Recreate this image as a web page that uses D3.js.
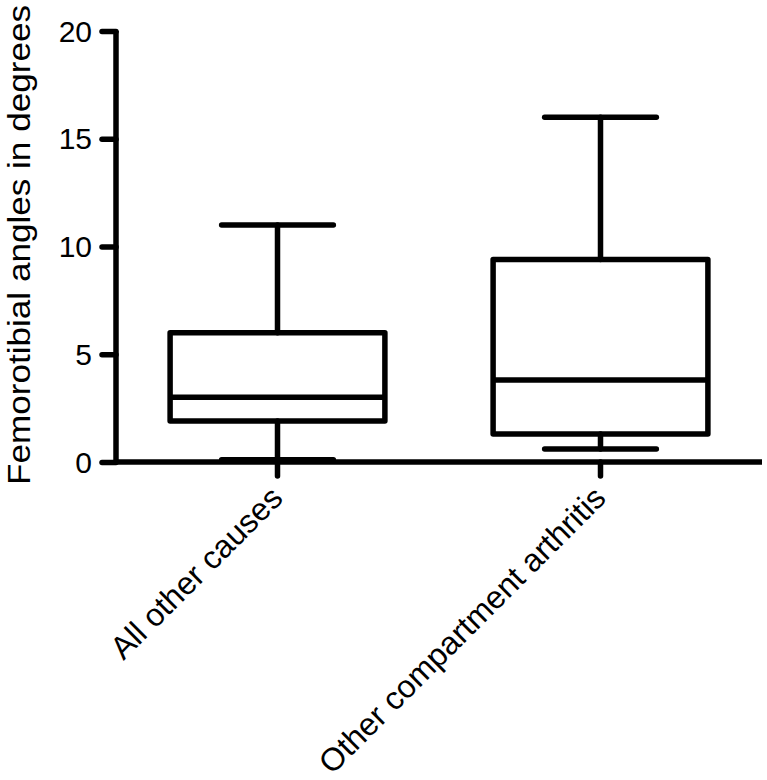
<!DOCTYPE html>
<html>
<head>
<meta charset="utf-8">
<script src="https://cdn.jsdelivr.net/npm/d3@7"></script>
<style>
  html, body { margin: 0; padding: 0; background: #fff; }
  svg { display: block; }
  text { font-family: "Liberation Sans", Arial, sans-serif; fill: #000; }
</style>
</head>
<body>
<svg id="chart" width="767" height="780"></svg>
<script>
const categories = ["All other causes", "Other compartment arthritis"];
const mins    = [0.1, 0.6];
const q1s     = [1.9, 1.3];
const medians = [3.0, 3.8];
const q3s     = [6.0, 9.4];
const maxs    = [11.0, 16.0];
const yTicks  = [0, 5, 10, 15, 20];
const yTitle  = "Femorotibial angles in degrees";

const svg = d3.select("#chart");
const mLeft = 116, mRight = 762, mTop = 31, mBottom = 462;
const SW = 5.5;

const x = d3.scaleBand().domain(categories).range([mLeft, mRight]).paddingInner(0).paddingOuter(0);
const y = d3.scaleLinear().domain([0, 20]).range([mBottom, mTop]);

const boxW = x.bandwidth() * 0.665;
const capW = boxW * 0.52;

const data = categories.map((c, i) => ({c, min: mins[i], q1: q1s[i], med: medians[i], q3: q3s[i], max: maxs[i]}));

const g = svg.append("g");
data.forEach(d => {
  const cx = x(d.c) + x.bandwidth() / 2;
  const gg = g.append("g").attr("stroke", "#000").attr("stroke-width", SW).attr("fill", "none").attr("stroke-linecap", "round");
  gg.append("line").attr("x1", cx).attr("x2", cx).attr("y1", y(d.q3)).attr("y2", y(d.max));
  gg.append("line").attr("x1", cx).attr("x2", cx).attr("y1", y(d.q1)).attr("y2", y(d.min));
  gg.append("line").attr("x1", cx - capW/2).attr("x2", cx + capW/2).attr("y1", y(d.max)).attr("y2", y(d.max));
  gg.append("line").attr("x1", cx - capW/2).attr("x2", cx + capW/2).attr("y1", y(d.min)).attr("y2", y(d.min));
  gg.append("rect").attr("x", cx - boxW/2).attr("width", boxW)
    .attr("y", y(d.q3)).attr("height", y(d.q1) - y(d.q3)).attr("stroke-linejoin", "round").attr("stroke-linecap", "butt");
  gg.append("line").attr("x1", cx - boxW/2).attr("x2", cx + boxW/2).attr("y1", y(d.med)).attr("y2", y(d.med)).attr("stroke-linecap", "butt");
});

// y axis
const yAxis = d3.axisLeft(y).tickValues(yTicks).tickSize(14).tickPadding(10).tickFormat(d3.format("d"));
const ya = svg.append("g").attr("transform", `translate(${mLeft},0)`).call(yAxis);
ya.select(".domain").attr("stroke", "#000").attr("stroke-width", SW).attr("d", `M0,${mTop}V${mBottom}`);
ya.selectAll(".tick line").attr("stroke", "#000").attr("stroke-width", SW).attr("stroke-linecap", "round");
ya.selectAll(".tick text").attr("font-size", 30).attr("font-family", "Liberation Sans, Arial, sans-serif").attr("dy", "0.34em");

// x axis
const xAxis = d3.axisBottom(x).tickSize(14).tickPadding(6);
const xa = svg.append("g").attr("transform", `translate(0,${mBottom})`).call(xAxis);
xa.select(".domain").attr("stroke", "#000").attr("stroke-width", SW).attr("d", `M${mLeft},0H${mRight}`);
xa.selectAll(".tick line").attr("stroke", "#000").attr("stroke-width", SW).attr("stroke-linecap", "round");
xa.selectAll(".tick text")
  .attr("font-size", 32).attr("font-family", "Liberation Sans, Arial, sans-serif")
  .attr("text-anchor", "end")
  .attr("x", 0).attr("y", 0).attr("dy", 0)
  .attr("transform", "translate(7,38) rotate(-45)");

// y title
svg.append("text")
  .attr("transform", `translate(30,${245}) rotate(-90)`)
  .attr("text-anchor", "middle")
  .attr("font-size", 32)
  .attr("textLength", 480)
  .attr("lengthAdjust", "spacingAndGlyphs")
  .text(yTitle);
</script>
</body>
</html>
